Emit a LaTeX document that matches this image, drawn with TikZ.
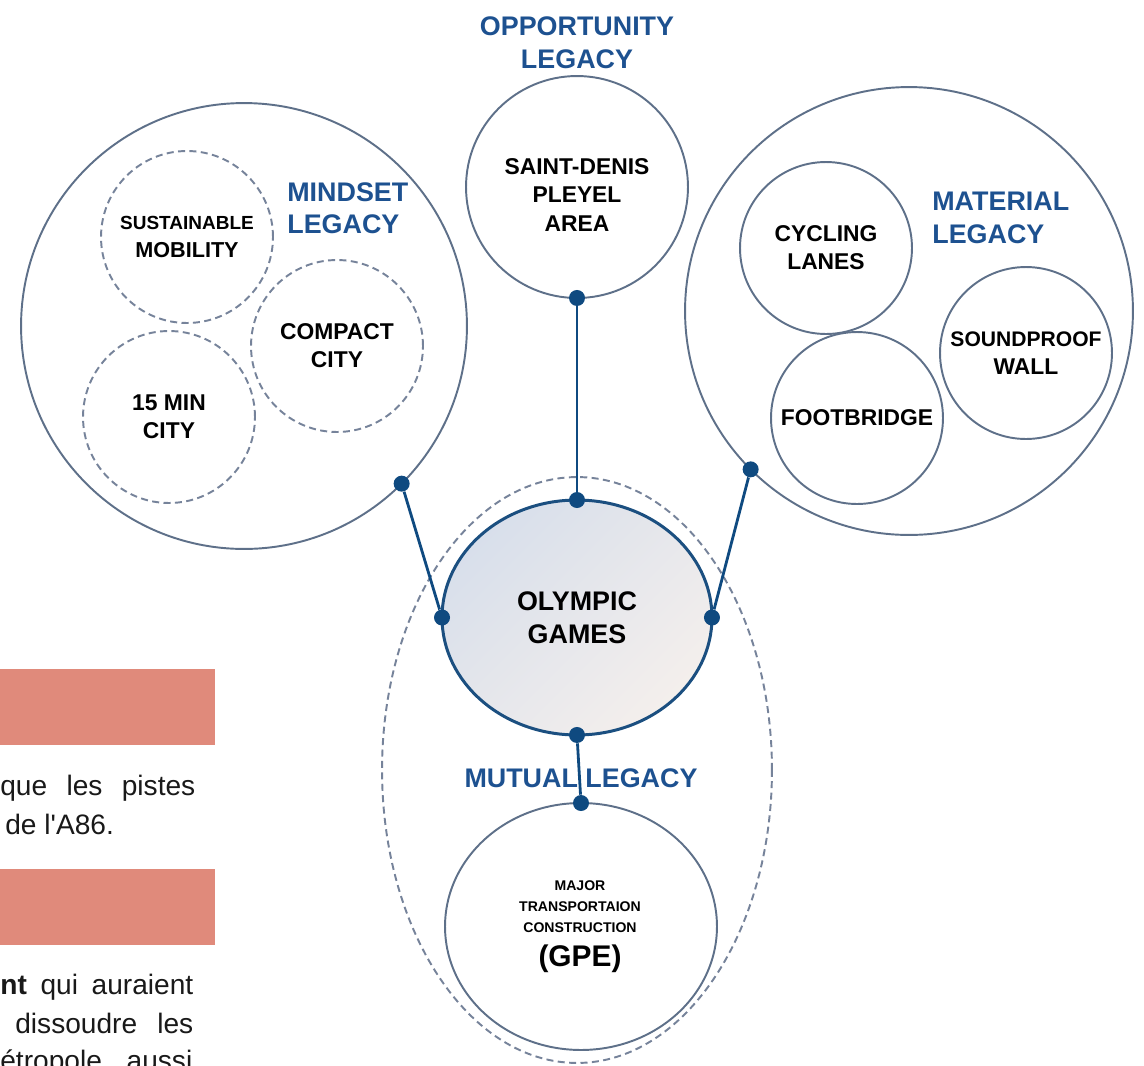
\documentclass[tikz,border=0pt]{standalone}
\usepackage{fontspec}
\setmainfont{Liberation Sans}
\usepackage{tikz}
\usetikzlibrary{shapes.geometric,positioning,backgrounds}
\definecolor{legacyblue}{HTML}{1D5190}
\definecolor{ringgray}{HTML}{5E7089}
\definecolor{dashgray}{HTML}{76839A}
\definecolor{linkblue}{HTML}{0F4A80}
\definecolor{olyedge}{HTML}{1B4F80}
\definecolor{olyfillA}{HTML}{D8DFEB}
\definecolor{olyfillB}{HTML}{F4EFEC}
\definecolor{notesalmon}{HTML}{E08A7B}
\newcommand{\legacyfont}{\fontsize{15.3}{18.5}\selectfont\bfseries}
\newcommand{\itemfont}{\fontsize{13}{16}\selectfont\bfseries}
\newcommand{\notefont}{\fontsize{16}{19}\selectfont}
\tikzset{
  ring/.style={circle,draw=ringgray,line width=1.1pt,inner sep=0pt,outer sep=0pt,
    minimum size=#1,font=\itemfont,align=center,text=black},
  ring/.default={3.44cm},
  dashring/.style={ring=#1,draw=dashgray,dashed,dash pattern=on 4pt off 2.5pt},
  dashring/.default={3.44cm},
  oval/.style={ellipse,draw=ringgray,line width=1.1pt,inner sep=0pt,outer sep=0pt,
    align=center,text=black},
  core/.style={ellipse,draw=olyedge,line width=1.7pt,inner sep=0pt,outer sep=0pt,
    left color=olyfillA,right color=olyfillB,shading angle=45,
    minimum width=5.4cm,minimum height=4.7cm,
    font=\fontsize{15.3}{18.7}\selectfont\bfseries,align=center,text=black},
  legacylabel/.style={font=\legacyfont,text=legacyblue,inner sep=0pt,align=left},
  dot/.style={circle,fill=linkblue,inner sep=0pt,minimum size=0.32cm},
  link/.style={draw=linkblue,line width=1.6pt},
  notetext/.style={font=\notefont,text=black!90,inner sep=0pt,anchor=base west},
}
\begin{document}
\begin{tikzpicture}[x=0.02cm,y=-0.02cm]
  \useasboundingbox (0,0) rectangle (1144,1066);
  % page text behind the figure
  \begin{scope}
    \clip (0,0) rectangle (1144,1066);
    \fill[notesalmon] (0,669) rectangle (215,745);
    \fill[notesalmon] (0,869) rectangle (215,945);
    \node[notetext] (p1a) at (0,795) {\makebox[3.9cm][s]{que les pistes}};
    \node[notetext] (p1b) at (5,834) {de l\textquotesingle A86.};
    \node[notetext] (p2a) at (0,994) {\makebox[3.86cm][s]{\textbf{nt} qui auraient}};
    \node[notetext] (p2b) at (15,1033) {\makebox[3.56cm][s]{dissoudre les}};
    \node[notetext] (p2c) at (0,1070) {\makebox[3.84cm][s]{étropole, aussi}};
  \end{scope}

  % mindset legacy
  \node[ring=8.92cm] (mindset) at (244,326) {};
  \node[dashring] (mobility) at (187,237)
    {{\fontsize{10.8}{14}\selectfont SUSTAINABLE}\\{\fontsize{12.3}{14}\selectfont MOBILITY}};
  \node[dashring] (compact) at (337,346) {COMPACT\\CITY};
  \node[dashring] (fifteen) at (169,417) {15 MIN\\CITY};
  \node[legacylabel,anchor=west] (mindsetlbl) at (287,208) {MINDSET\\LEGACY};

  % opportunity legacy
  \node[ring=4.44cm] (opportunity) at (577,187) {};
  \node[font=\itemfont,align=center] (pleyel) at (577,195) {SAINT-DENIS\\PLEYEL\\AREA};
  \node[legacylabel,align=center,above=0.14cm of opportunity] (opplbl) {OPPORTUNITY\\LEGACY};

  % material legacy
  \node[ring=8.96cm] (material) at (909,311) {};
  \node[ring] (cycling) at (826,248) {CYCLING\\LANES};
  \node[ring] (soundproof) at (1026,353)
    {{\fontsize{12}{16}\selectfont SOUNDPROOF}\\WALL};
  \node[ring] (footbridge) at (857,418) {FOOTBRIDGE};
  \node[legacylabel,anchor=west] (materiallbl) at (932,218) {MATERIAL\\LEGACY};

  % mutual legacy
  \node[ellipse,draw=dashgray,dashed,dash pattern=on 4pt off 2.5pt,line width=1.1pt,
    minimum width=7.8cm,minimum height=11.72cm] (mutual) at (577,770) {};
  \node[core] (olympic) at (577,617.5) {OLYMPIC\\GAMES};
  \node[oval,minimum width=5.44cm,minimum height=4.94cm] (gpe) at (581,926.5) {};
  \node[align=center,inner sep=0pt] (gpetext) at (580,927)
    {\fontsize{8}{10.5}\selectfont\bfseries MAJOR\\
     \fontsize{8}{10.5}\selectfont\bfseries TRANSPORTAION\\
     \fontsize{8}{10.5}\selectfont\bfseries CONSTRUCTION\\[6pt]
     \fontsize{17}{17}\selectfont\bfseries (GPE)};
  \node[legacylabel] (mutuallbl) at (581,778) {MUTUAL LEGACY};

  % connectors
  \node[dot] (dmind) at (mindset.-45) {};
  \node[dot] (dmat) at (material.-135) {};
  \node[dot] (dopp) at (opportunity.south) {};
  \node[dot] (dwest) at (olympic.west) {};
  \node[dot] (deast) at (olympic.east) {};
  \node[dot] (dnorth) at (olympic.north) {};
  \node[dot] (dsouth) at (olympic.south) {};
  \node[dot] (dgpe) at (gpe.north) {};
  \draw[link] (dmind) -- (dwest);
  \draw[link] (dmat) -- (deast);
  \draw[link] (dopp) -- (dnorth);
  \draw[link] (dsouth) -- (dgpe);
\end{tikzpicture}
\end{document}
